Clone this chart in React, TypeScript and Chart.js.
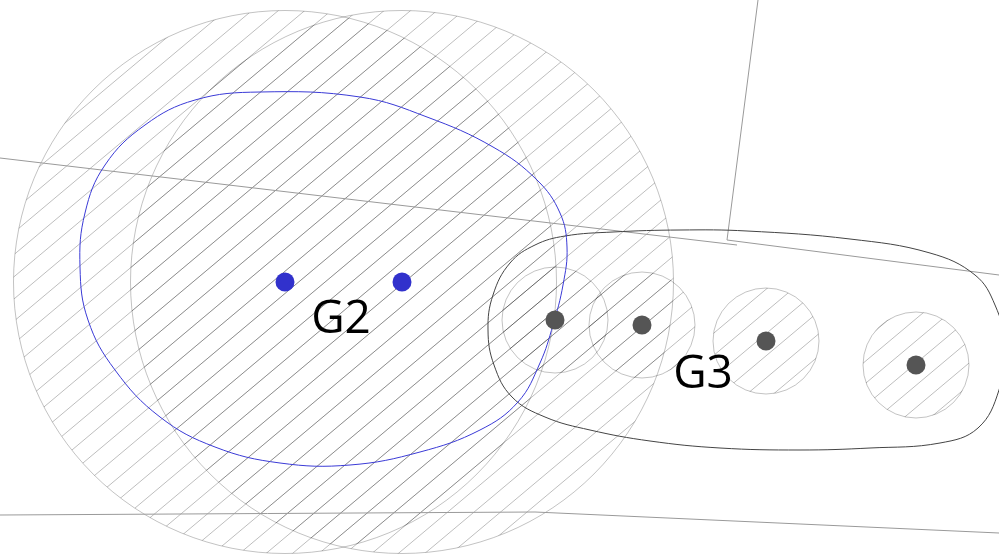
import { useEffect, useRef } from "react";
import { Chart, registerables } from "chart.js";

Chart.register(...registerables);

const CANVAS_W = 999;
const CANVAS_H = 554;

// Axis extents (data units)
const X_MIN = 0;
const X_MAX = 9.99;
const Y_MIN = 0;
const Y_MAX = 5.54;

// Group G2 members
const g2X = [2.85, 4.02];
const g2Y = [2.72, 2.72];
const g2Radius = [2.715, 2.715];

// Group G3 members
const g3X = [5.55, 6.42, 7.66, 9.16];
const g3Y = [2.34, 2.29, 2.13, 1.89];
const g3Radius = [0.53, 0.53, 0.53, 0.53];

// Smooth hull around G2
const g2HullX = [2.6, 3.6, 4.27, 4.93, 5.37, 5.6, 5.67, 5.63, 5.53, 5.4, 5.18, 4.8, 4.2, 3.5, 2.8, 2.15, 1.6, 1.15, 0.88, 0.8, 0.85, 1.05, 1.45, 1.95];
const g2HullY = [4.62, 4.57, 4.37, 4.07, 3.74, 3.41, 3.07, 2.69, 2.29, 1.91, 1.52, 1.24, 1.02, 0.89, 0.91, 1.07, 1.37, 1.84, 2.34, 2.87, 3.41, 3.89, 4.29, 4.54];

// Smooth hull around G3
const g3HullX = [5.65, 6.13, 6.8, 7.47, 8.5, 9.3, 9.75, 9.95, 10.05, 9.99, 9.78, 9.4, 8.7, 8.0, 7.2, 6.5, 5.9, 5.45, 5.12, 4.94, 4.88, 4.93, 5.1, 5.35];
const g3HullY = [3.18, 3.22, 3.24, 3.23, 3.15, 3.01, 2.79, 2.49, 2.09, 1.64, 1.26, 1.11, 1.06, 1.04, 1.06, 1.13, 1.24, 1.37, 1.57, 1.89, 2.24, 2.59, 2.91, 3.09];

// Separator lines
const sepAX = [0, 7.37];
const sepAY = [3.96, 3.09];
const sepBX = [7.58, 7.27, 9.99];
const sepBY = [5.54, 3.14, 2.79];
const sepCX = [0, 5.35, 9.99];
const sepCY = [0.39, 0.42, 0.21];

// Labels
const labelText = ["G2", "G3"];
const labelX = [3.41, 7.03];
const labelY = [2.21, 1.66];

const pts = (xs: number[], ys: number[]) => xs.map((x, i) => ({ x, y: ys[i] }));

const closedLoop = (xs: number[], ys: number[]) => {
  const p = pts(xs, ys);
  const n = p.length;
  return [p[n - 1], ...p, p[0], p[1]];
};

const hullDataset = (xs: number[], ys: number[], color: string, order: number) => {
  const n = xs.length;
  return {
    data: closedLoop(xs, ys),
    showLine: true,
    borderColor: color,
    borderWidth: 1,
    pointRadius: 0,
    tension: 0.4,
    fill: false,
    order,
    segment: {
      borderColor: (ctx: any) =>
        ctx.p0DataIndex === 0 || ctx.p0DataIndex === n + 1 ? "rgba(0,0,0,0)" : undefined,
    },
  };
};

const lineDataset = (xs: number[], ys: number[]) => ({
  data: pts(xs, ys),
  showLine: true,
  borderColor: "#9a9a9a",
  borderWidth: 1,
  pointRadius: 0,
  tension: 0,
  fill: false,
  order: 6,
});

const circles = [
  ...g2X.map((x, i) => ({ x, y: g2Y[i], r: g2Radius[i] })),
  ...g3X.map((x, i) => ({ x, y: g3Y[i], r: g3Radius[i] })),
];

const HATCH_ANGLE = (40 * Math.PI) / 180;
const HATCH_GAP = 17;
const HATCH_COLOR = "rgba(0,0,0,0.26)";

const hatchPlugin = {
  id: "hatchCircles",
  beforeDatasetsDraw(chart: any) {
    const { ctx, scales } = chart;
    const xs = scales.x;
    const ys = scales.y;
    const nx = Math.sin(HATCH_ANGLE);
    const ny = Math.cos(HATCH_ANGLE);
    const dx = Math.cos(HATCH_ANGLE);
    const dy = -Math.sin(HATCH_ANGLE);
    circles.forEach((c) => {
      const cx = xs.getPixelForValue(c.x);
      const cy = ys.getPixelForValue(c.y);
      const r = xs.getPixelForValue(c.x + c.r) - cx;
      ctx.save();
      ctx.beginPath();
      ctx.arc(cx, cy, r, 0, Math.PI * 2);
      ctx.clip();
      ctx.strokeStyle = HATCH_COLOR;
      ctx.lineWidth = 1;
      const dc = nx * cx + ny * cy;
      const lo = Math.floor((dc - r) / HATCH_GAP) - 1;
      const hi = Math.ceil((dc + r) / HATCH_GAP) + 1;
      ctx.beginPath();
      for (let k = lo; k <= hi; k++) {
        const off = k * HATCH_GAP - dc;
        const px = cx + nx * off;
        const py = cy + ny * off;
        ctx.moveTo(px - dx * (r + 4), py - dy * (r + 4));
        ctx.lineTo(px + dx * (r + 4), py + dy * (r + 4));
      }
      ctx.stroke();
      ctx.restore();
      ctx.save();
      ctx.beginPath();
      ctx.arc(cx, cy, r, 0, Math.PI * 2);
      ctx.strokeStyle = "rgba(0,0,0,0.24)";
      ctx.lineWidth = 1;
      ctx.stroke();
      ctx.restore();
    });
  },
  afterDatasetsDraw(chart: any) {
    const { ctx, scales } = chart;
    ctx.save();
    ctx.fillStyle = "#000";
    ctx.font = "46px 'Open Sans'";
    ctx.textAlign = "center";
    ctx.textBaseline = "alphabetic";
    labelText.forEach((t, i) => {
      ctx.fillText(t, scales.x.getPixelForValue(labelX[i]), scales.y.getPixelForValue(labelY[i]));
    });
    ctx.restore();
  },
};

export default function App() {
  const ref = useRef<HTMLCanvasElement>(null);

  useEffect(() => {
    if (!ref.current) return;
    const chart = new Chart(ref.current, {
      type: "scatter",
      data: {
        datasets: [
          {
            data: pts(g2X, g2Y),
            pointRadius: 9.5,
            pointBackgroundColor: "#3131cc",
            pointBorderWidth: 0,
            showLine: false,
            order: 1,
          },
          {
            data: pts(g3X, g3Y),
            pointRadius: 9.5,
            pointBackgroundColor: "#555555",
            pointBorderWidth: 0,
            showLine: false,
            order: 1,
          },
          hullDataset(g2HullX, g2HullY, "#3a3ad6", 3),
          hullDataset(g3HullX, g3HullY, "#444444", 3),
          lineDataset(sepAX, sepAY),
          lineDataset(sepBX, sepBY),
          lineDataset(sepCX, sepCY),
        ] as any,
      },
      options: {
        animation: false,
        responsive: false,
        maintainAspectRatio: false,
        layout: { padding: 0, autoPadding: false },
        elements: { line: { capBezierPoints: false } },
        plugins: { legend: { display: false }, tooltip: { enabled: false } },
        events: [],
        scales: {
          x: { type: "linear", min: X_MIN, max: X_MAX, display: false },
          y: { type: "linear", min: Y_MIN, max: Y_MAX, display: false },
        },
      },
      plugins: [hatchPlugin],
    });
    return () => chart.destroy();
  }, []);

  return (
    <div style={{ position: "absolute", left: 0, top: 0, width: CANVAS_W, height: CANVAS_H, background: "#fff" }}>
      <canvas ref={ref} width={CANVAS_W} height={CANVAS_H} style={{ display: "block" }} />
    </div>
  );
}
